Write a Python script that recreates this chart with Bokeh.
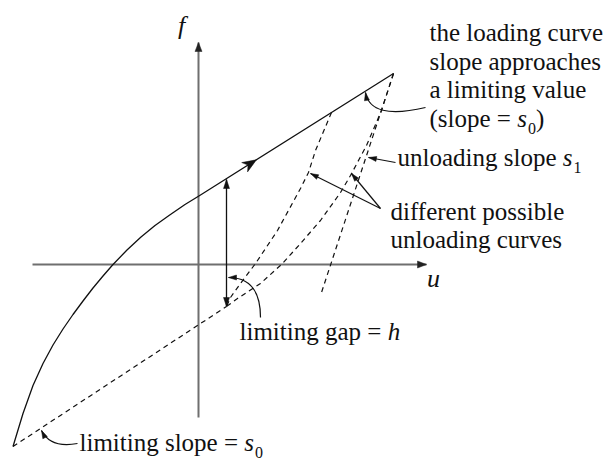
import math
from bokeh.plotting import figure
from bokeh.models import Range1d
from bokeh.core.properties import value
from bokeh.embed import file_html
from bokeh.resources import INLINE

# ---------------------------------------------------------------------------
# Canvas geometry: pixels per unit on both axes and the origin's pixel spot
# ---------------------------------------------------------------------------
W, H = 605, 461
S = 50.0
OX, OY = 198.0, 264.0

# ---------------------------------------------------------------------------
# Diagram data (u = displacement, f = force)
# ---------------------------------------------------------------------------
# loading curve: curved start, then straight with limiting slope s0
loading_u = [-3.71, -3.51, -3.31, -3.11, -2.91, -2.71, -2.51, -2.31, -2.11,
             -1.91, -1.71, -1.43, -1.15, -0.87, -0.59, -0.27, 0.04, 3.90]
loading_f = [-3.64, -2.98, -2.42, -1.98, -1.61, -1.29, -1.00, -0.73, -0.47,
             -0.23, 0.00, 0.29, 0.55, 0.78, 0.98, 1.20, 1.39, 3.82]

# dashed line with the limiting slope s0
limit_u = [-3.71, 0.56]
limit_f = [-3.64, -0.84]

# two possible unloading curves
unload_a_u = [2.66, 2.34, 2.20, 2.04, 1.58, 1.14, 0.84, 0.64, 0.56]
unload_a_f = [3.04, 2.28, 1.84, 1.52, 0.68, 0.02, -0.38, -0.66, -0.84]
unload_b_u = [3.90, 3.66, 3.36, 3.04, 2.84, 2.44, 2.04, 1.68, 1.24, 0.78, 0.56]
unload_b_f = [3.82, 3.08, 2.38, 1.78, 1.44, 0.88, 0.42, 0.02, -0.38, -0.68, -0.84]

# straight unloading line with slope s1
s1_u = [3.90, 2.44]
s1_f = [3.82, -0.62]

# limiting gap h between loading line and limiting line
gap_u = 0.56
gap_top = 1.70
gap_bottom = -0.84

# coordinate axes extents
u_axis = [-3.32, 4.56]
f_axis = [-3.06, 4.44]

# ---------------------------------------------------------------------------
# Figure
# ---------------------------------------------------------------------------
p = figure(width=W, height=H, output_backend="svg", toolbar_location=None,
           x_range=Range1d(-OX / S, (W - OX) / S),
           y_range=Range1d((OY - H) / S, OY / S),
           x_axis_type=None, y_axis_type=None,
           min_border=0, min_border_left=0, min_border_right=0,
           min_border_top=0, min_border_bottom=0)
p.grid.visible = False
p.outline_line_color = None
p.background_fill_color = "white"
p.border_fill_color = "white"

AXIS = "#6f6f6f"
INK = "#111111"


def head(tip, frm, length, half, notch=0.0):
    """Arrowhead (in data units) at `tip`, pointing away from `frm`.
    A non-zero `notch` pulls the back edge in, giving a stealth shape."""
    dx = (tip[0] - frm[0]) * S
    dy = (tip[1] - frm[1]) * S
    n = math.hypot(dx, dy)
    dx, dy = dx / n, dy / n
    bx = tip[0] * S - dx * length
    by = tip[1] * S - dy * length
    nx, ny = -dy, dx
    xs = [tip[0], (bx + nx * half) / S]
    ys = [tip[1], (by + ny * half) / S]
    if notch:
        xs.append((bx + dx * notch) / S)
        ys.append((by + dy * notch) / S)
    xs.append((bx - nx * half) / S)
    ys.append((by - ny * half) / S)
    return xs, ys


# axes
p.line(u_axis, [0, 0], line_color=AXIS, line_width=2)
p.line([0, 0], f_axis, line_color=AXIS, line_width=2)
axis_heads = [head((u_axis[1], 0), (0, 0), 9, 3.5),
              head((0, f_axis[1]), (0, 0), 9, 3.5)]
p.patches([h[0] for h in axis_heads], [h[1] for h in axis_heads],
          fill_color="#222222", line_color="#222222", line_width=0.5)

# loading curve
p.line(loading_u, loading_f, line_color=INK, line_width=1.3, line_join="round")

# dashed lines
for xs, ys in [(limit_u, limit_f), (unload_a_u, unload_a_f),
               (unload_b_u, unload_b_f), (s1_u, s1_f)]:
    p.line(xs, ys, line_color=INK, line_width=1.2, line_dash="5 4")

# gap arrow (double headed)
p.line([gap_u, gap_u], [gap_top, gap_bottom], line_color=INK, line_width=1.3)

heads = []
heads.append(head((gap_u, gap_top), (gap_u, 0), 9, 3))
heads.append(head((gap_u, gap_bottom), (gap_u, 0), 9, 3))

# direction marker on the loading line
t = 0.29
mark = (loading_u[-2] + t * (loading_u[-1] - loading_u[-2]),
        loading_f[-2] + t * (loading_f[-1] - loading_f[-2]))
heads.append(head(mark, (loading_u[-2], loading_f[-2]), 14, 5.5, notch=4))

# straight pointer arrows: (tail, tip)
pointers = [((3.94, 2.04), (3.40, 2.14)),
            ((3.64, 1.12), (2.24, 1.82)),
            ((3.64, 1.12), (3.06, 1.82))]
for tail, tip in pointers:
    p.line([tail[0], tip[0]], [tail[1], tip[1]], line_color=INK, line_width=1.2)
    heads.append(head(tip, tail, 8, 2.5))

# curved pointer arrows: (start, control, end)
curved = [((4.54, 3.14), (3.44, 2.88), (3.34, 3.44)),
          ((1.24, -1.06), (1.24, -0.26), (0.60, -0.26)),
          ((-2.42, -3.58), (-2.96, -3.68), (-3.14, -3.32))]
for s0, c, e in curved:
    p.quadratic(x0=[s0[0]], y0=[s0[1]], x1=[e[0]], y1=[e[1]],
                cx=[c[0]], cy=[c[1]], line_color=INK, line_width=1.2)
    heads.append(head(e, c, 8, 2.5))

p.patches([h[0] for h in heads], [h[1] for h in heads],
          fill_color=INK, line_color=INK, line_width=0.5)

# ---------------------------------------------------------------------------
# Labels (pieces: roman, italic symbol, subscript), placed by line middle
# ---------------------------------------------------------------------------
FONT = "Liberation Serif"
FS = 25
SUB_FS = 16
SUB_DROP = 10

ADV = {' ': .25, '(': .333, ')': .333, '=': .564, 'a': .444, 'b': .5, 'c': .444,
       'd': .5, 'e': .444, 'f': .333, 'g': .5, 'h': .5, 'i': .278, 'l': .278,
       'm': .778, 'n': .5, 'o': .5, 'p': .5, 'r': .333, 's': .389, 't': .278,
       'u': .5, 'v': .5, '0': .5, '1': .5}

labels = [
    (429, 32, [("the loading curve", "rm")]),
    (429, 61, [("slope approaches", "rm")]),
    (429, 89, [("a limiting value", "rm")]),
    (429, 118, [("(slope = ", "rm"), ("s", "it"), ("0", "sub"), (")", "rm")]),
    (397, 157, [("unloading slope ", "rm"), ("s", "it"), ("1", "sub")]),
    (390, 211, [("different possible", "rm")]),
    (390, 239, [("unloading curves", "rm")]),
    (239, 331, [("limiting gap = ", "rm"), ("h", "it")]),
    (79, 442, [("limiting slope = ", "rm"), ("s", "it"), ("0", "sub")]),
]

runs = {"rm": ([], [], []), "it": ([], [], []), "sub": ([], [], [])}
for x0, mid, pieces in labels:
    x = x0
    for txt, style in pieces:
        size = SUB_FS if style == "sub" else FS
        ym = mid + (SUB_DROP if style == "sub" else 0)
        runs[style][0].append((x - OX) / S)
        runs[style][1].append((OY - ym) / S)
        runs[style][2].append(txt)
        x += sum(ADV.get(ch, .5) for ch in txt) * size
        if style == "it":
            x += 1

p.text(runs["rm"][0], runs["rm"][1], text=runs["rm"][2],
       text_font=value(FONT), text_font_size=value(f"{FS}px"),
       text_baseline="middle", text_align="left", text_color=INK)
p.text(runs["it"][0], runs["it"][1], text=runs["it"][2],
       text_font=value(FONT), text_font_size=value(f"{FS}px"),
       text_font_style="italic",
       text_baseline="middle", text_align="left", text_color=INK)
p.text(runs["sub"][0], runs["sub"][1], text=runs["sub"][2],
       text_font=value(FONT), text_font_size=value(f"{SUB_FS}px"),
       text_baseline="middle", text_align="left", text_color=INK)

# axis names
axis_names_u = [(181 - OX) / S, (433 - OX) / S]
axis_names_f = [(OY - 25) / S, (OY - 278) / S]
p.text(axis_names_u, axis_names_f, text=["f", "u"],
       text_font=value(FONT), text_font_size=value("26px"),
       text_font_style="italic",
       text_baseline="middle", text_align="center", text_color=INK)

open("out.html", "w").write(file_html(p, INLINE))
